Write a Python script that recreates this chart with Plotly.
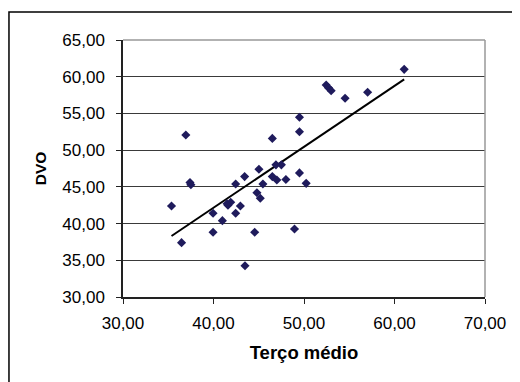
import numpy as np
import plotly.graph_objects as go

terco_medio = [61.07, 57.03, 54.54, 52.45, 52.7, 53.0, 49.5, 49.5, 36.94, 46.5,
               37.4, 37.5, 42.45, 43.44, 45.02, 46.9, 47.5, 46.5, 47.0, 48.0,
               49.5, 50.24, 45.46, 44.8, 45.17, 35.36, 36.47, 39.95, 39.95, 40.98,
               41.6, 41.9, 41.5, 42.97, 42.45, 44.55, 43.48, 48.95]
dvo = [61.0, 57.88, 57.06, 58.87, 58.5, 58.1, 54.47, 52.5, 52.06, 51.6,
       45.6, 45.3, 45.39, 46.4, 47.4, 48.0, 48.0, 46.4, 45.93, 46.0,
       46.9, 45.48, 45.39, 44.2, 43.44, 42.39, 37.4, 41.4, 38.81, 40.4,
       42.5, 42.9, 42.7, 42.39, 41.4, 38.81, 34.26, 39.26]

x_ticks = [30, 40, 50, 60, 70]
y_ticks = [30, 35, 40, 45, 50, 55, 60, 65]

slope, intercept = np.polyfit(terco_medio, dvo, 1)
tx = np.array([min(terco_medio), max(terco_medio)])
ty = slope * tx + intercept

fig = go.Figure()
fig.add_trace(go.Scatter(x=tx, y=ty, mode="lines",
                         line=dict(color="black", width=2), showlegend=False))
fig.add_trace(go.Scatter(x=terco_medio, y=dvo, mode="markers",
                         marker=dict(symbol="diamond", size=7, color="#1f1b5c"),
                         showlegend=False))

font = "Liberation Sans, Arial, sans-serif"
fig.update_layout(
    width=512, height=374,
    margin=dict(l=115, r=35, t=32, b=85),
    paper_bgcolor="white", plot_bgcolor="white",
    separators=",.",
    font=dict(family=font, size=17, color="black"),
    xaxis=dict(range=[30, 70], tickvals=x_ticks, tickformat=".2f",
               showgrid=False, zeroline=False,
               showline=True, linecolor="#222222", linewidth=1.5,
               ticks="outside", ticklen=5, tickcolor="#222222",
               ticklabelstandoff=5,
               title=dict(text="<b>Terço médio</b>", standoff=14,
                          font=dict(size=18.5))),
    yaxis=dict(range=[30, 65], tickvals=y_ticks, tickformat=".2f",
               showgrid=True, gridcolor="#3a3a3a", gridwidth=1,
               zeroline=False,
               showline=True, linecolor="#222222", linewidth=1.5,
               ticks="outside", ticklen=5, tickcolor="#222222",
               ticklabelstandoff=8,
               title=dict(text="<b>DVO</b>", standoff=12,
                          font=dict(size=15.5))),
    shapes=[
        dict(type="line", xref="x domain", yref="y domain", x0=0, x1=1, y0=1, y1=1,
             line=dict(color="#999999", width=1.5)),
        dict(type="line", xref="x domain", yref="y domain", x0=1, x1=1, y0=0, y1=1,
             line=dict(color="#999999", width=1.5)),
        dict(type="rect", xref="paper", yref="paper", x0=-0.315, x1=1.3, y0=-0.6, y1=1.109,
             line=dict(color="black", width=1.5)),
    ],
)
fig.write_html("out.html")
